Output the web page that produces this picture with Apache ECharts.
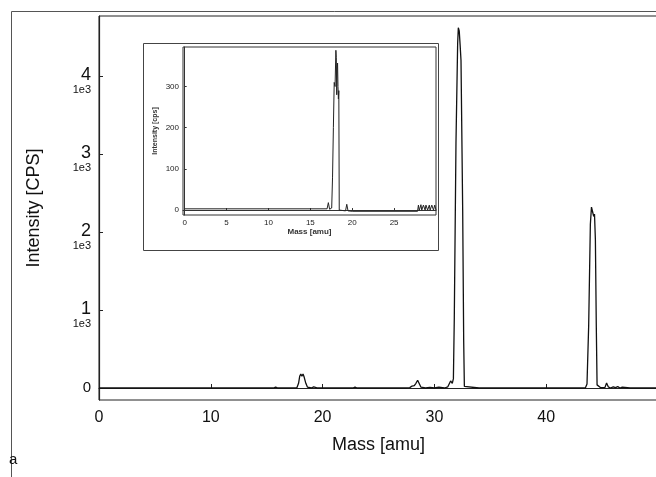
<!DOCTYPE html>
<html>
<head>
<meta charset="utf-8">
<script src="https://cdn.jsdelivr.net/npm/echarts@6/dist/echarts.min.js"></script>
<style>
  html, body { margin: 0; padding: 0; background: #fff; }
  #chart { width: 656px; height: 477px; }
</style>
</head>
<body>
<div id="chart"></div>
<script>
// main spectrum (mass in amu, intensity in cps)
const mainMass = [0, 2, 4, 6, 8, 10, 12, 14, 15.6, 15.8, 16.0, 17.0, 17.7, 17.85, 17.95, 18.05, 18.15, 18.25, 18.35, 18.5, 18.65, 18.8, 19.0, 19.2, 19.5, 20.5, 22.7, 22.9, 23.1, 25, 27.5, 27.8, 28.0, 28.1, 28.2, 28.35, 28.5, 28.65, 28.8, 29.2, 29.6, 30.0, 30.4, 30.9, 31.2, 31.45, 31.6, 31.7, 31.78, 31.93, 32.08, 32.14, 32.22, 32.3, 32.38, 32.53, 32.62, 32.68, 32.8, 34, 38, 42, 43.5, 43.65, 43.75, 43.8, 43.95, 44.05, 44.15, 44.25, 44.32, 44.4, 44.48, 44.55, 44.7, 44.85, 45.0, 45.25, 45.4, 45.55, 45.75, 46.0, 46.2, 46.4, 46.6, 46.8, 47.5, 50]
const mainCps = [0, 0, 0, 0, 0, 0, 0, 0, 0, 12, 0, 0, 3, 60, 150, 178, 150, 180, 140, 60, 10, 15, 0, 14, 0, 0, 0, 12, 0, 0, 0, 5, 25, 40, 30, 60, 100, 55, 10, 0, 8, 0, 10, 0, 15, 90, 60, 120, 900, 3140, 4420, 4620, 4580, 4400, 4200, 2280, 600, 20, 0, 0, 0, 0, 0, 50, 60, 800, 2100, 2320, 2260, 2200, 2230, 1900, 800, 40, 20, 5, 30, 5, 64, 15, 0, 15, 5, 18, 0, 10, 0, 0]

// inset spectrum
const insetMass = [0, 10, 17.0, 17.15, 17.3, 17.55, 17.65, 17.75, 17.85, 17.95, 18.05, 18.1, 18.15, 18.2, 18.25, 18.3, 18.35, 18.4, 18.45, 18.6, 19.2, 19.35, 19.5, 20, 27.8, 27.9, 28.0, 28.2, 28.3, 28.5, 28.7, 28.8, 29.0, 29.2, 29.3, 29.5, 29.7, 29.85, 30]
const insetCps = [3, 3, 3, 18, 2, 5, 80, 200, 310, 300, 388, 370, 280, 340, 357, 300, 270, 290, 0, -2, -2, 14, -2, -3, -3, 12, -1, 13, 0, 12, 0, 12, 0, 12, 0, 12, 0, 12, 0]

const mainYTicks = [0, 1000, 2000, 3000, 4000]
const mainXTicks = [0, 10, 20, 30, 40]
const insetYTicks = [0, 100, 200, 300]
const insetXTicks = [0, 5, 10, 15, 20, 25]

const font = '"Liberation Sans", Arial, sans-serif'
const ink = '#111'

function pairs(xs, ys) {
  return xs.map((x, i) => [x, ys[i]])
}

const chart = echarts.init(document.getElementById('chart'))

chart.setOption({
  animation: false,
  backgroundColor: '#fff',
  textStyle: { fontFamily: font, color: ink },
  grid: [
    { left: 99, top: 16, right: -2, bottom: 77, show: true, borderColor: '#222', borderWidth: 1, outerBoundsMode: 'none', containLabel: false },
    { left: 183, top: 47, right: 220, bottom: 262, show: true, borderColor: '#333', borderWidth: 1, outerBoundsMode: 'none', containLabel: false }
  ],
  xAxis: [
    {
      gridIndex: 0, type: 'value', min: 0, max: 50,
      name: 'Mass [amu]', nameLocation: 'middle', nameGap: 36,
      nameTextStyle: { fontSize: 18, color: ink, fontFamily: font },
      axisLine: { lineStyle: { color: '#222', width: 1.2 } },
      axisTick: { inside: true, length: 4, customValues: mainXTicks, lineStyle: { color: '#222' } },
      axisLabel: { customValues: mainXTicks, fontSize: 16, color: ink, margin: 10, fontFamily: font },
      splitLine: { show: false }
    },
    {
      gridIndex: 1, type: 'value', min: -0.2, max: 30,
      name: 'Mass [amu]', nameLocation: 'middle', nameGap: 13,
      nameTextStyle: { fontSize: 8, color: '#333', fontFamily: font, fontWeight: 'bold' },
      axisLine: { lineStyle: { color: '#333' } },
      axisTick: { inside: true, length: 2, customValues: insetXTicks, lineStyle: { color: '#333' } },
      axisLabel: { customValues: insetXTicks, fontSize: 8, color: '#222', margin: 4, fontFamily: font },
      splitLine: { show: false }
    }
  ],
  yAxis: [
    {
      gridIndex: 0, type: 'value', min: -154, max: 4770,
      name: 'Intensity [CPS]', nameLocation: 'middle', nameGap: 56,
      nameTextStyle: { fontSize: 18, color: ink, fontFamily: font },
      axisLine: { show: true, lineStyle: { color: '#222', width: 1.2 } },
      axisTick: { show: true, inside: true, length: 4, customValues: mainYTicks, lineStyle: { color: '#222' } },
      axisLabel: {
        customValues: mainYTicks, margin: 8, align: 'right',
        formatter: v => v === 0 ? '{z|0}' : '{a|' + v / 1000 + '}\n{b|1e3}',
        rich: {
          z: { fontSize: 15, color: ink, fontFamily: font },
          a: { fontSize: 18, lineHeight: 28, color: ink, fontFamily: font, align: 'right' },
          b: { fontSize: 11, lineHeight: 2, color: ink, fontFamily: font, align: 'right' }
        }
      },
      splitLine: { show: false }
    },
    {
      gridIndex: 1, type: 'value', min: -12, max: 396,
      name: 'Intensity [cps]', nameLocation: 'middle', nameGap: 24,
      nameTextStyle: { fontSize: 7, color: '#333', fontFamily: font, fontWeight: 'bold' },
      axisLine: { show: true, lineStyle: { color: '#333' } },
      axisTick: { show: true, inside: true, length: 2, customValues: insetYTicks, lineStyle: { color: '#333' } },
      axisLabel: { customValues: insetYTicks, fontSize: 8, color: '#222', margin: 4, fontFamily: font },
      splitLine: { show: false }
    }
  ],
  graphic: [
    { type: 'rect', silent: true, shape: { x: 11.5, y: 11.5, width: 700, height: 500 }, style: { fill: 'none', stroke: '#555', lineWidth: 1 } },
    { type: 'rect', silent: true, shape: { x: 143.5, y: 43.5, width: 295, height: 207 }, style: { fill: 'none', stroke: '#444', lineWidth: 1 } },
    { type: 'text', silent: true, left: 9, top: 452, style: { text: 'a', fontSize: 15, fontFamily: font, fill: ink } }
  ],
  series: [
    {
      type: 'line', xAxisIndex: 0, yAxisIndex: 0, showSymbol: false,
      lineStyle: { color: ink, width: 1.3 },
      data: pairs(mainMass, mainCps)
    },
    {
      type: 'line', xAxisIndex: 1, yAxisIndex: 1, showSymbol: false,
      lineStyle: { color: '#222', width: 1 },
      data: pairs(insetMass, insetCps)
    }
  ]
})
</script>
</body>
</html>
